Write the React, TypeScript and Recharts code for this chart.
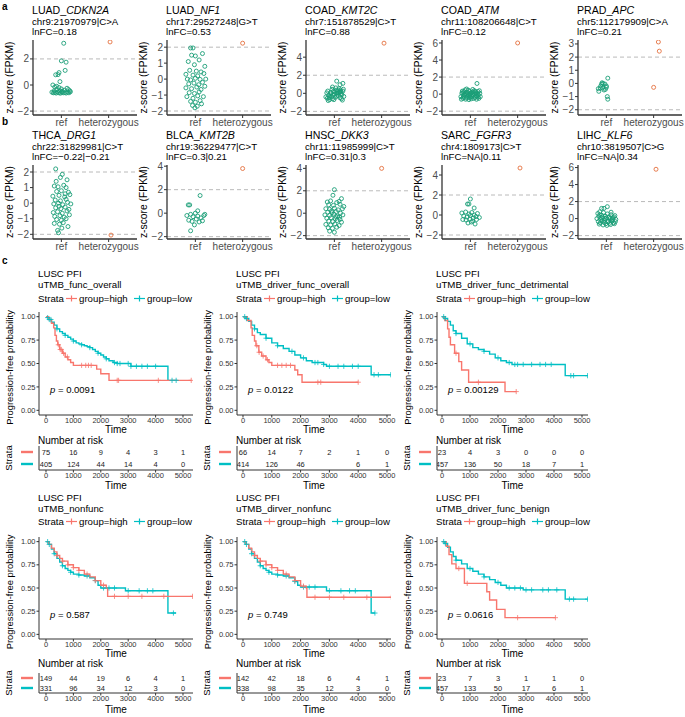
import React from 'react'
import { ScatterChart, Scatter, ComposedChart, Line, XAxis, YAxis, ReferenceLine } from 'recharts'

const FONT = '"Liberation Sans", Arial, Helvetica, sans-serif'
const RED = '#F8766D'
const TEAL = '#00BFC4'
const GREEN = '#1b9e77'
const ORANGE = '#e4703e'
const AXIS = '#333333'

type Pt = [number, number]

// ---- panel a / b: z-score jitter plots ([jittered x, z-score]) ----
const cdkn2aRef: Pt[] = [[1.05,3.2],[1.0,1.85],[1.1,1.75],[1.08,1.12],[0.95,0.95],[0.88,0.78],[0.93,0.8],[0.97,0.26],[0.82,0.0],[0.86,-0.15],[0.9,-0.1],[0.95,-0.2],[1.0,-0.3],[1.12,-0.25],[1.15,-0.35],[0.8,-0.55],[0.83,-0.6],[0.86,-0.58],[0.89,-0.62],[0.92,-0.55],[0.95,-0.6],[0.98,-0.63],[1.01,-0.55],[1.04,-0.6],[1.07,-0.58],[1.1,-0.62],[1.13,-0.55],[1.16,-0.6],[1.19,-0.52],[0.85,-0.45],[0.96,-0.45],[1.06,-0.4],[1.18,-0.45],[0.9,-0.35],[1.02,-0.48]]
const cdkn2aHet: Pt[] = [[2.03,3.3]]
const nf1Ref: Pt[] = [[0.9,1.95],[0.95,1.95],[0.92,1.5],[1.0,1.45],[1.15,1.6],[0.85,1.1],[0.98,0.9],[1.08,1.2],[1.2,0.8],[0.88,0.55],[1.02,0.5],[1.12,0.45],[0.8,0.3],[0.95,0.25],[1.05,0.2],[1.18,0.35],[0.83,0.0],[0.9,-0.05],[1.0,0.05],[1.1,-0.02],[1.22,0.0],[0.86,-0.3],[0.97,-0.25],[1.07,-0.35],[1.15,-0.2],[0.8,-0.55],[0.92,-0.6],[1.03,-0.5],[1.12,-0.65],[1.2,-0.45],[0.87,-0.85],[0.98,-0.9],[1.08,-0.8],[0.82,-1.1],[0.95,-1.2],[1.05,-1.05],[1.17,-1.1],[0.9,-1.4],[1.0,-1.45],[1.1,-1.35],[0.94,-1.65],[1.04,-1.7],[1.13,-1.55],[0.99,-1.8]]
const nf1Het: Pt[] = [[2.0,2.25]]
const kmt2cRef: Pt[] = [[0.82,-0.4],[0.85,-0.55],[0.88,-0.2],[0.9,-0.7],[0.92,0.1],[0.94,-0.35],[0.96,-0.6],[0.98,0.2],[1.0,-0.1],[1.02,-0.45],[1.04,0.35],[1.06,0.0],[1.08,-0.25],[1.1,0.5],[1.12,-0.5],[1.14,0.15],[1.16,-0.15],[1.18,0.25],[1.2,-0.35],[0.84,0.05],[0.87,-0.8],[0.91,-0.3],[0.95,0.45],[0.99,-0.7],[1.03,0.6],[1.07,0.3],[1.11,0.1],[1.15,-0.6],[1.19,0.45],[0.86,0.25],[0.93,-0.05],[0.97,-0.2],[1.01,0.15],[1.05,-0.3],[1.09,0.05],[1.13,0.35],[1.17,-0.75],[0.89,-0.5],[1.05,1.35],[1.12,0.95],[1.18,1.1],[0.96,0.7],[1.12,0.2],[1.05,0.05],[1.14,-0.05]]
const kmt2cHet: Pt[] = [[2.05,5.55]]
const atmRef: Pt[] = [[0.8,-0.3],[0.82,0.1],[0.84,-0.5],[0.86,0.3],[0.88,-0.1],[0.9,-0.6],[0.92,0.2],[0.94,-0.35],[0.96,0.45],[0.98,-0.2],[1.0,0.0],[1.02,-0.55],[1.04,0.25],[1.06,-0.15],[1.08,0.4],[1.1,-0.4],[1.12,0.05],[1.14,-0.25],[1.16,0.3],[1.18,-0.5],[1.2,0.1],[0.81,-0.6],[0.83,0.35],[0.85,-0.2],[0.87,0.0],[0.89,0.5],[0.91,-0.45],[0.93,-0.05],[0.95,0.15],[0.97,-0.65],[0.99,0.3],[1.01,0.1],[1.03,-0.3],[1.05,0.55],[1.07,-0.5],[1.09,0.0],[1.11,0.2],[1.13,-0.6],[1.15,0.05],[1.17,-0.1],[1.19,0.4],[1.21,-0.3],[0.86,-0.4],[0.92,0.6],[0.98,-0.45],[1.04,-0.05],[1.1,0.35],[1.16,-0.35],[0.9,0.05],[1.06,0.15],[0.96,-0.1],[1.12,-0.2],[1.0,-0.35],[1.14,1.25],[0.84,0.15]]
const atmHet: Pt[] = [[2.0,6.0]]
const apcRef: Pt[] = [[0.84,-0.6],[0.83,-0.4],[0.88,-0.2],[0.9,-0.05],[0.93,0.0],[0.97,-0.05],[1.0,-0.2],[1.03,0.4],[0.92,-0.35],[0.95,-0.5],[0.98,-0.45],[1.0,-0.3],[1.02,-1.0],[1.03,-1.2],[0.87,-0.35],[0.91,0.05]]
const apcHet: Pt[] = [[2.0,-0.3],[2.1,3.15],[2.12,2.45]]
const drg1Ref: Pt[] = [[0.88,2.2],[1.02,1.85],[0.98,1.65],[1.12,1.5],[0.85,1.1],[0.93,1.05],[1.05,1.15],[1.1,1.0],[0.9,0.75],[1.0,0.8],[1.15,0.7],[0.82,0.45],[0.95,0.5],[1.07,0.4],[1.18,0.55],[0.87,0.2],[0.98,0.15],[1.1,0.25],[0.84,-0.05],[0.94,0.0],[1.03,-0.1],[1.13,0.05],[1.2,-0.05],[0.88,-0.3],[0.99,-0.35],[1.08,-0.25],[1.16,-0.4],[0.83,-0.6],[0.92,-0.55],[1.02,-0.65],[1.12,-0.5],[0.86,-0.85],[0.97,-0.8],[1.06,-0.9],[1.17,-0.75],[0.9,-1.05],[1.0,-1.1],[1.1,-1.0],[0.85,-1.3],[0.96,-1.35],[1.04,-1.25],[1.14,-1.5],[0.92,-1.75],[0.94,-1.9],[1.01,-1.6],[0.89,1.4],[1.08,0.6],[0.95,-0.2]]
const drg1Het: Pt[] = [[2.05,-2.05]]
const kmt2bRef: Pt[] = [[0.85,0.7],[0.88,0.7],[1.1,1.5],[0.82,-0.2],[0.9,-0.1],[0.95,-0.3],[1.0,0.0],[1.05,-0.25],[1.12,-0.4],[1.18,-0.2],[0.86,-0.6],[0.93,-0.7],[1.02,-0.5],[1.08,-0.75],[1.15,-0.65],[0.98,-1.0],[1.2,-0.1],[0.9,-1.5],[1.05,0.2]]
const kmt2bHet: Pt[] = [[2.0,3.8]]
const dkk3Ref: Pt[] = [[1.0,2.1],[0.97,1.6],[1.15,1.3],[0.85,1.0],[0.92,1.1],[1.05,0.95],[1.1,1.05],[0.88,0.75],[0.98,0.7],[1.12,0.8],[1.2,0.6],[0.82,0.4],[0.9,0.35],[1.0,0.45],[1.08,0.3],[1.17,0.4],[0.86,0.1],[0.95,0.05],[1.04,0.15],[1.13,0.0],[0.8,-0.15],[0.9,-0.2],[0.99,-0.1],[1.07,-0.25],[1.18,-0.15],[0.84,-0.45],[0.93,-0.4],[1.02,-0.5],[1.11,-0.35],[0.88,-0.7],[0.97,-0.75],[1.06,-0.65],[1.15,-0.8],[0.82,-1.0],[0.92,-1.05],[1.01,-0.95],[1.1,-1.1],[0.87,-1.3],[0.96,-1.35],[1.05,-1.25],[0.9,-1.6],[1.0,-1.7],[1.12,-0.55],[0.94,0.2],[1.03,-0.3]]
const dkk3Het: Pt[] = [[2.0,4.0]]
const fgfr3Ref: Pt[] = [[0.94,1.1],[0.97,1.1],[1.0,1.6],[1.08,0.7],[0.82,0.2],[0.9,0.3],[0.97,0.1],[1.03,0.25],[1.08,0.0],[1.15,0.15],[0.86,-0.1],[0.93,-0.2],[1.0,-0.05],[1.06,-0.3],[1.12,-0.15],[1.19,-0.25],[0.84,-0.45],[0.91,-0.5],[0.99,-0.4],[1.05,-0.6],[1.13,-0.45],[0.95,-0.8],[1.1,-0.9],[1.02,-0.7]]
const fgfr3Het: Pt[] = [[2.05,4.7]]
const klf6Ref: Pt[] = [[0.9,1.2],[0.95,1.2],[1.02,1.4],[0.82,0.6],[0.86,0.8],[0.9,0.4],[0.94,0.7],[0.98,0.3],[1.02,0.55],[1.06,0.2],[1.1,0.45],[1.14,0.1],[1.18,0.35],[0.8,0.0],[0.84,0.25],[0.88,-0.1],[0.92,0.15],[0.96,-0.2],[1.0,0.05],[1.04,-0.3],[1.08,0.0],[1.12,-0.15],[1.16,0.2],[1.2,-0.1],[0.83,-0.35],[0.87,-0.5],[0.91,-0.25],[0.95,-0.45],[0.99,-0.6],[1.03,-0.4],[1.07,-0.55],[1.11,-0.3],[1.15,-0.5],[1.19,-0.35],[0.85,-0.65],[0.93,-0.75],[1.01,-0.8],[1.09,-0.7],[1.17,-0.6],[0.89,0.1],[0.97,0.0],[1.05,0.1],[1.13,-0.05],[0.86,0.45],[1.1,0.75]]
const klf6Het: Pt[] = [[2.05,5.8]]

// ---- panel c: Kaplan-Meier steps ([time, survival]) and censor times ----
const funcHigh: Pt[] = [[0,1],[100,0.97],[200,0.93],[280,0.88],[330,0.8],[380,0.74],[430,0.7],[500,0.65],[600,0.61],[700,0.57],[800,0.54],[900,0.51],[1000,0.48],[1850,0.44],[2000,0.39],[2300,0.32],[5300,0.32]]
const funcLow: Pt[] = [[0,1],[50,0.99],[100,0.97],[200,0.94],[300,0.91],[400,0.87],[500,0.84],[600,0.82],[700,0.8],[800,0.78],[900,0.76],[1000,0.74],[1100,0.72],[1200,0.71],[1300,0.7],[1400,0.69],[1500,0.68],[1600,0.67],[1700,0.65],[1800,0.63],[1900,0.61],[2000,0.59],[2100,0.57],[2200,0.55],[2300,0.53],[2450,0.51],[2600,0.5],[3100,0.47],[4450,0.32],[4800,0.32]]
const funcHighCens = [450, 520, 560, 640, 780, 1300, 1450, 1550, 1650, 2600, 2650, 4100, 5300]
const funcLowCens = [60, 120, 180, 400, 700, 1000, 1300, 1600, 1900, 2200, 2500, 2600, 2700, 3000, 3100, 3300, 3500, 3700, 4000, 4600, 4750]

const drvHigh: Pt[] = [[0,1],[150,0.96],[280,0.88],[320,0.8],[400,0.74],[450,0.69],[550,0.62],[650,0.58],[800,0.54],[900,0.51],[1000,0.48],[1800,0.43],[1900,0.38],[2050,0.3],[4000,0.3]]
const drvLow: Pt[] = [[0,1],[100,0.98],[200,0.95],[300,0.91],[400,0.87],[500,0.83],[600,0.81],[800,0.77],[1000,0.72],[1200,0.69],[1400,0.66],[1600,0.63],[1800,0.59],[2000,0.56],[2200,0.53],[2400,0.51],[2800,0.49],[2900,0.47],[4450,0.38],[5130,0.38]]
const drvHighCens = [480, 560, 700, 850, 1200, 1350, 1500, 1650, 2600, 2700, 4000]
const drvLowCens = [60, 120, 400, 800, 1200, 1700, 2100, 2500, 2600, 2800, 3000, 3300, 3500, 3800, 4000, 4550, 4700, 5130]

const detHigh: Pt[] = [[0,1],[100,0.96],[200,0.87],[250,0.78],[300,0.7],[450,0.61],[600,0.52],[700,0.43],[950,0.3],[2250,0.2],[2650,0.2]]
const detLow: Pt[] = [[0,1],[100,0.98],[200,0.95],[300,0.91],[400,0.85],[500,0.82],[700,0.77],[900,0.71],[1100,0.67],[1300,0.65],[1500,0.63],[1700,0.6],[1900,0.56],[2100,0.53],[2300,0.51],[2500,0.49],[4400,0.37],[5200,0.37]]
const detHighCens = [500, 1300, 2650]
const detLowCens = [60, 120, 500, 1000, 1500, 2000, 2400, 2600, 2700, 2900, 3200, 3500, 3700, 3900, 4600, 4700, 5200]

const nonHigh: Pt[] = [[0,1],[100,0.97],[200,0.93],[300,0.89],[400,0.85],[500,0.82],[600,0.79],[800,0.75],[1000,0.72],[1200,0.69],[1400,0.65],[1600,0.62],[1800,0.58],[2000,0.53],[2200,0.5],[2250,0.41],[5350,0.41]]
const nonLow: Pt[] = [[0,1],[100,0.97],[200,0.92],[300,0.87],[400,0.82],[500,0.78],[600,0.74],[700,0.71],[800,0.69],[900,0.67],[1000,0.65],[1200,0.64],[1400,0.63],[1600,0.61],[1800,0.58],[1900,0.53],[2000,0.5],[2900,0.47],[4450,0.23],[4750,0.23]]
const nonHighCens = [400, 600, 800, 1000, 1200, 1500, 1800, 2100, 2500, 3000, 3500, 4300, 5350]
const nonLowCens = [60, 120, 300, 600, 900, 1200, 1500, 1800, 2100, 2300, 2500, 3000, 3400, 3700, 3900, 4650]

const dnHigh: Pt[] = [[0,1],[100,0.97],[200,0.93],[300,0.89],[400,0.85],[500,0.82],[600,0.79],[800,0.75],[1000,0.72],[1200,0.69],[1400,0.65],[1600,0.62],[1800,0.58],[2000,0.52],[2200,0.5],[2220,0.4],[5150,0.4]]
const dnLow: Pt[] = [[0,1],[100,0.97],[200,0.92],[300,0.87],[400,0.82],[500,0.78],[600,0.74],[700,0.71],[800,0.69],[900,0.67],[1000,0.65],[1200,0.64],[1400,0.63],[1600,0.61],[1800,0.57],[1900,0.53],[2000,0.51],[2900,0.47],[4450,0.23],[4580,0.23]]
const dnHighCens = [400, 600, 800, 1000, 1200, 1500, 1800, 2100, 2500, 3000, 3500, 4300, 5150]
const dnLowCens = [60, 120, 300, 600, 900, 1200, 1500, 1800, 2100, 2300, 2500, 3000, 3400, 3700, 3900, 4580]

const benHigh: Pt[] = [[0,1],[150,0.95],[250,0.86],[350,0.76],[500,0.71],[800,0.55],[1600,0.46],[1700,0.37],[1950,0.27],[2250,0.18],[4050,0.18]]
const benLow: Pt[] = [[0,1],[100,0.98],[200,0.94],[300,0.89],[400,0.84],[500,0.8],[700,0.76],[900,0.71],[1100,0.68],[1300,0.65],[1500,0.62],[1700,0.59],[1900,0.56],[2100,0.53],[2300,0.5],[2900,0.48],[4400,0.38],[5200,0.38]]
const benHighCens = [600, 900, 2700, 4050]
const benLowCens = [60, 120, 500, 1000, 1500, 2000, 2400, 2600, 2800, 3000, 3200, 3600, 3800, 4100, 4550, 4700, 5200]

// number at risk at 0,1000,...,5000 (null = not shown)
const timeTicks = [0, 1000, 2000, 3000, 4000, 5000]
const probTicks = [0, 0.25, 0.5, 0.75, 1]
const riskFuncHigh = [75, 16, 9, 4, 3, 1]
const riskFuncLow = [405, 124, 44, 14, 4, 0]
const riskDrvHigh = [66, 14, 7, 2, 1, 0]
const riskDrvLow = [414, 126, 46, null, 6, 1]
const riskDetHigh = [23, 4, 3, 0, 0, 0]
const riskDetLow = [457, 136, 50, 18, 7, 1]
const riskNonHigh = [149, 44, 19, 6, 4, 1]
const riskNonLow = [331, 96, 34, 12, 3, 0]
const riskDnHigh = [142, 42, 18, 6, 4, 1]
const riskDnLow = [338, 98, 35, 12, 3, 0]
const riskBenHigh = [23, 7, 3, 1, 1, 0]
const riskBenLow = [457, 133, 50, 17, 6, 1]

const minus = (v: number) => String(v).replace('-', '\u2212')

function stepAt(curve: Pt[], t: number) {
  let s = curve[0][1]
  for (const [ct, cs] of curve) if (ct <= t) s = cs
  return s
}

const circle = (color: string) => (p: any) =>
  p.cx == null ? <g /> : <circle cx={p.cx} cy={p.cy} r={2} fill="none" stroke={color} strokeWidth={0.9} />

const plus = (color: string) => (p: any) =>
  p.cx == null ? <g key={p.index} /> : (
    <path key={p.index} d={`M${p.cx - 2.6},${p.cy}H${p.cx + 2.6}M${p.cx},${p.cy - 2.6}V${p.cy + 2.6}`} stroke={color} strokeWidth={0.8} fill="none" />
  )

function JitterPlot({ x, y, h, domain, ticks, refPts, hetPts }: any) {
  const yW = 26
  const w = 104
  return (
    <div style={{ position: 'absolute', left: x - yW, top: y - 4 }}>
      <ScatterChart width={yW + w + 4} height={h + 4 + 22} margin={{ top: 4, right: 4, bottom: 0, left: 0 }}>
        <XAxis type="number" dataKey="x" domain={[0.4, 2.6]} ticks={[1, 2]} allowDataOverflow height={22}
          tickFormatter={(v: number) => (v === 1 ? 'ref' : 'heterozygous')} interval={0}
          tick={{ fontSize: 10, fill: '#4d4d4d', fontFamily: FONT }} tickSize={3} tickMargin={1}
          axisLine={{ stroke: AXIS, strokeWidth: 1.3 }} tickLine={{ stroke: AXIS }} />
        <YAxis type="number" dataKey="y" domain={domain} ticks={ticks} allowDataOverflow width={yW} interval={0}
          tickFormatter={minus} tick={{ fontSize: 10, fill: '#4d4d4d', fontFamily: FONT }} tickSize={3} tickMargin={1}
          axisLine={{ stroke: AXIS, strokeWidth: 1.3 }} tickLine={{ stroke: AXIS }} />
        <ReferenceLine y={2} stroke="#a8a8a8" strokeDasharray="4 3" strokeWidth={0.8} />
        <ReferenceLine y={-2} stroke="#a8a8a8" strokeDasharray="4 3" strokeWidth={0.8} />
        <Scatter data={refPts.map(([a, b]: Pt) => ({ x: a, y: b }))} shape={circle(GREEN)} isAnimationActive={false} />
        <Scatter data={hetPts.map(([a, b]: Pt) => ({ x: a, y: b }))} shape={circle(ORANGE)} isAnimationActive={false} />
      </ScatterChart>
    </div>
  )
}

function KmPlot({ x, y, w, h, dom, high, low, highCens, lowCens }: any) {
  const yW = 34
  const toRows = (c: Pt[]) => c.map(([t, s]) => ({ t, s }))
  const cens = (c: Pt[], times: number[]) => times.map((t) => ({ t, s: stepAt(c, t) }))
  return (
    <div style={{ position: 'absolute', left: x - yW, top: y - 4 }}>
      <ComposedChart width={yW + w + 6} height={h + 4 + 14} margin={{ top: 4, right: 6, bottom: 0, left: 0 }}>
        <XAxis type="number" dataKey="t" domain={dom} ticks={timeTicks} allowDataOverflow height={14} interval={0}
          tick={{ fontSize: 7.5, fill: '#333', fontFamily: FONT }} tickSize={2.5} tickMargin={0}
          axisLine={{ stroke: AXIS, strokeWidth: 1 }} tickLine={{ stroke: AXIS }} />
        <YAxis type="number" domain={[-0.05, 1.05]} ticks={probTicks} allowDataOverflow width={yW} interval={0}
          tickFormatter={(v: number) => v.toFixed(2)} tick={{ fontSize: 7.5, fill: '#333', fontFamily: FONT }}
          tickSize={2.5} tickMargin={1} axisLine={{ stroke: AXIS, strokeWidth: 1 }} tickLine={{ stroke: AXIS }} />
        <Line data={toRows(low)} dataKey="s" type="stepAfter" stroke={TEAL} strokeWidth={1.4} dot={false} isAnimationActive={false} />
        <Line data={toRows(high)} dataKey="s" type="stepAfter" stroke={RED} strokeWidth={1.4} dot={false} isAnimationActive={false} />
        <Line data={cens(low, lowCens)} dataKey="s" stroke="none" strokeWidth={0} dot={plus(TEAL)} isAnimationActive={false} />
        <Line data={cens(high, highCens)} dataKey="s" stroke="none" strokeWidth={0} dot={plus(RED)} isAnimationActive={false} />
      </ComposedChart>
    </div>
  )
}

function RiskTable({ x, y, w, h, dom, high, low }: any) {
  const yW = 34
  const rows = [
    ...high.map((n: number | null, i: number) => ({ t: timeTicks[i], row: 2, n })),
    ...low.map((n: number | null, i: number) => ({ t: timeTicks[i], row: 1, n })),
  ].filter((d) => d.n != null)
  const keyTick = (p: any) => (
    <line x1={p.x - 13} x2={p.x - 1} y1={p.y} y2={p.y} stroke={p.payload.value === 2 ? RED : TEAL} strokeWidth={2.4} />
  )
  const txt = (p: any) => (
    <text x={p.cx} y={p.cy} textAnchor="middle" dominantBaseline="central" fontSize={7.5} fill="#222" fontFamily={FONT}>{p.payload.n}</text>
  )
  return (
    <div style={{ position: 'absolute', left: x - yW, top: y }}>
      <ScatterChart width={yW + w + 6} height={h + 14} margin={{ top: 0, right: 6, bottom: 0, left: 0 }}>
        <XAxis type="number" dataKey="t" domain={dom} ticks={timeTicks} allowDataOverflow height={14} interval={0}
          tick={{ fontSize: 7.5, fill: '#333', fontFamily: FONT }} tickSize={2.5} tickMargin={0}
          axisLine={{ stroke: AXIS, strokeWidth: 1 }} tickLine={{ stroke: AXIS }} />
        <YAxis type="number" dataKey="row" domain={[0.5, 2.5]} ticks={[1, 2]} width={yW} interval={0}
          tick={keyTick} tickLine={false} tickSize={5} tickMargin={0} axisLine={{ stroke: AXIS, strokeWidth: 1 }} />
        <Scatter data={rows} shape={txt} isAnimationActive={false} />
      </ScatterChart>
    </div>
  )
}

const jitterA = [
  { cancer: 'LUAD', gene: 'CDKN2A', pos: 'chr9:21970979|C>A', fc: 'lnFC=0.18', domain: [-2.3, 3.45], ticks: [-2, 0, 2], r: cdkn2aRef, het: cdkn2aHet },
  { cancer: 'LUAD', gene: 'NF1', pos: 'chr17:29527248|G>T', fc: 'lnFC=0.53', domain: [-2.25, 2.45], ticks: [-2, -1, 0, 1, 2], r: nf1Ref, het: nf1Het },
  { cancer: 'COAD', gene: 'KMT2C', pos: 'chr7:151878529|C>T', fc: 'lnFC=0.88', domain: [-2.4, 5.9], ticks: [-2, 0, 2, 4], r: kmt2cRef, het: kmt2cHet },
  { cancer: 'COAD', gene: 'ATM', pos: 'chr11:108206648|C>T', fc: 'lnFC=0.12', domain: [-2.45, 6.35], ticks: [-2, 0, 2, 4, 6], r: atmRef, het: atmHet },
  { cancer: 'PRAD', gene: 'APC', pos: 'chr5:112179909|C>A', fc: 'lnFC=0.21', domain: [-2.4, 3.3], ticks: [-2, -1, 0, 1, 2, 3], r: apcRef, het: apcHet },
]
const jitterB = [
  { cancer: 'THCA', gene: 'DRG1', pos: 'chr22:31829981|C>T', fc: 'lnFC=\u22120.22|\u22120.21', domain: [-2.3, 2.45], ticks: [-2, -1, 0, 1, 2], r: drg1Ref, het: drg1Het },
  { cancer: 'BLCA', gene: 'KMT2B', pos: 'chr19:36229477|C>T', fc: 'lnFC=0.3|0.21', domain: [-2.2, 4.1], ticks: [-2, 0, 2, 4], r: kmt2bRef, het: kmt2bHet },
  { cancer: 'HNSC', gene: 'DKK3', pos: 'chr11:11985999|C>T', fc: 'lnFC=0.31|0.3', domain: [-2.3, 4.3], ticks: [-2, 0, 2, 4], r: dkk3Ref, het: dkk3Het },
  { cancer: 'SARC', gene: 'FGFR3', pos: 'chr4:1809173|C>T', fc: 'lnFC=NA|0.11', domain: [-2.4, 5.0], ticks: [-2, 0, 2, 4], r: fgfr3Ref, het: fgfr3Het },
  { cancer: 'LIHC', gene: 'KLF6', pos: 'chr10:3819507|C>G', fc: 'lnFC=NA|0.34', domain: [-2.4, 6.3], ticks: [-2, 0, 2, 4, 6], r: klf6Ref, het: klf6Het },
]
const jitterX = [33, 167, 306, 442, 578]

const kmCols = [
  { x: 39, w: 154, dom: [-255, 5365] },
  { x: 237, w: 154, dom: [-208, 5139] },
  { x: 437, w: 151, dom: [-179, 5214] },
]
const kmPanels = [
  { name: 'uTMB_func_overall', p: '0.0091', high: funcHigh, low: funcLow, hc: funcHighCens, lc: funcLowCens, rh: riskFuncHigh, rl: riskFuncLow },
  { name: 'uTMB_driver_func_overall', p: '0.0122', high: drvHigh, low: drvLow, hc: drvHighCens, lc: drvLowCens, rh: riskDrvHigh, rl: riskDrvLow },
  { name: 'uTMB_driver_func_detrimental', p: '0.00129', high: detHigh, low: detLow, hc: detHighCens, lc: detLowCens, rh: riskDetHigh, rl: riskDetLow },
  { name: 'uTMB_nonfunc', p: '0.587', high: nonHigh, low: nonLow, hc: nonHighCens, lc: nonLowCens, rh: riskNonHigh, rl: riskNonLow },
  { name: 'uTMB_dirver_nonfunc', p: '0.749', high: dnHigh, low: dnLow, hc: dnHighCens, lc: dnLowCens, rh: riskDnHigh, rl: riskDnLow },
  { name: 'uTMB_driver_func_benign', p: '0.0616', high: benHigh, low: benLow, hc: benHighCens, lc: benLowCens, rh: riskBenHigh, rl: riskBenLow },
]
// vertical layout of the two KM rows
const kmRows = [
  { title: 277, legend: 302, plotTop: 312, plotH: 103, pY: 393, time: 433, nar: 443.5, tabTop: 446, tabH: 24, tabTime: 488.5 },
  { title: 501, legend: 525, plotTop: 537, plotH: 102, pY: 618, time: 656.5, nar: 667, tabTop: 673, tabH: 20, tabTime: 712.5 },
]

function LegendKey({ x, y, color }: any) {
  return (
    <g>
      <line x1={x} x2={x + 11} y1={y} y2={y} stroke={color} strokeWidth={1.2} />
      <line x1={x + 5.5} x2={x + 5.5} y1={y - 3} y2={y + 3} stroke={color} strokeWidth={1.2} />
    </g>
  )
}

export default function App() {
  const txt = { fontFamily: FONT, fill: '#000' }
  return (
    <div style={{ position: 'absolute', left: 0, top: 0, width: 685, height: 717, background: '#fff', fontFamily: FONT }}>
      {jitterA.map((d, i) => (
        <JitterPlot key={'a' + i} x={jitterX[i]} y={40} h={75} domain={d.domain} ticks={d.ticks} refPts={d.r} hetPts={d.het} />
      ))}
      {jitterB.map((d, i) => (
        <JitterPlot key={'b' + i} x={jitterX[i]} y={165} h={74} domain={d.domain} ticks={d.ticks} refPts={d.r} hetPts={d.het} />
      ))}
      {kmPanels.map((d, i) => {
        const c = kmCols[i % 3]
        const r = kmRows[Math.floor(i / 3)]
        return (
          <React.Fragment key={'km' + i}>
            <KmPlot x={c.x} y={r.plotTop} w={c.w} h={r.plotH} dom={c.dom} high={d.high} low={d.low} highCens={d.hc} lowCens={d.lc} />
            <RiskTable x={c.x} y={r.tabTop} w={c.w} h={r.tabH} dom={c.dom} high={d.rh} low={d.rl} />
          </React.Fragment>
        )
      })}
      <svg width={685} height={717} style={{ position: 'absolute', left: 0, top: 0, pointerEvents: 'none' }}>
        <text x={2} y={10} fontSize={10} fontWeight="bold" {...txt}>a</text>
        <text x={2} y={125} fontSize={10} fontWeight="bold" {...txt}>b</text>
        <text x={2} y={264} fontSize={10} fontWeight="bold" {...txt}>c</text>
        {[jitterA, jitterB].map((row, ri) =>
          row.map((d, i) => {
            const x = jitterX[i] - 1
            const base = ri === 0 ? 14 : 139
            const top = ri === 0 ? 40 : 165
            const h = ri === 0 ? 75 : 74
            return (
              <g key={`t${ri}${i}`}>
                <text x={x} y={base} fontSize={10.6} {...txt}>{d.cancer}_<tspan fontStyle="italic">{d.gene}</tspan></text>
                <text x={x} y={base + 10.7} fontSize={9.7} {...txt}>{d.pos}</text>
                <text x={x} y={base + 21.3} fontSize={9.7} {...txt}>{d.fc}</text>
                <text transform={`translate(${jitterX[i] - 20},${top + h / 2}) rotate(-90)`} textAnchor="middle" fontSize={10.3} {...txt}>z-score (FPKM)</text>
              </g>
            )
          })
        )}
        {kmPanels.map((d, i) => {
          const c = kmCols[i % 3]
          const r = kmRows[Math.floor(i / 3)]
          const x = c.x - 1
          return (
            <g key={'kt' + i}>
              <text x={x} y={r.title} fontSize={9.7} {...txt}>LUSC PFI</text>
              <text x={x} y={r.title + 10.5} fontSize={9.7} {...txt}>{d.name}</text>
              <text x={x} y={r.legend} fontSize={9.7} {...txt}>Strata</text>
              <LegendKey x={c.x + 27} y={r.legend - 3.5} color={RED} />
              <text x={c.x + 40} y={r.legend} fontSize={9.7} {...txt}>group=high</text>
              <LegendKey x={c.x + 95} y={r.legend - 3.5} color={TEAL} />
              <text x={c.x + 108} y={r.legend} fontSize={9.7} {...txt}>group=low</text>
              <text transform={`translate(${c.x - 26},${r.plotTop + r.plotH / 2 + 4}) rotate(-90)`} textAnchor="middle" fontSize={9.4} {...txt}>Progression-free probability</text>
              <text x={c.x + 11} y={r.pY} fontSize={9.5} {...txt}><tspan fontStyle="italic">p</tspan> = {d.p}</text>
              <text x={c.x + c.w / 2} y={r.time} textAnchor="middle" fontSize={10} {...txt}>Time</text>
              <text x={x} y={r.nar} fontSize={10} {...txt}>Number at risk</text>
              <text transform={`translate(${c.x - 27},${r.tabTop + r.tabH / 2}) rotate(-90)`} textAnchor="middle" fontSize={9.5} {...txt}>Strata</text>
              <text x={c.x + c.w / 2} y={r.tabTime} textAnchor="middle" fontSize={10} {...txt}>Time</text>
            </g>
          )
        })}
      </svg>
    </div>
  )
}
